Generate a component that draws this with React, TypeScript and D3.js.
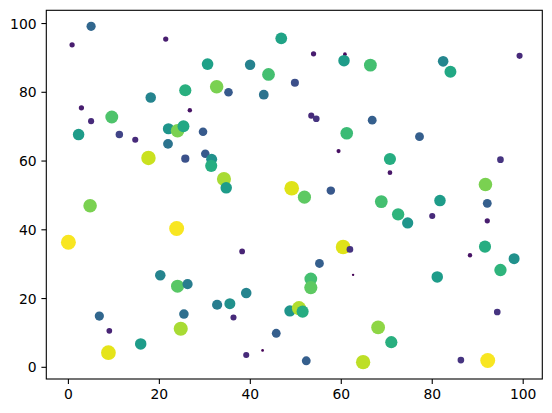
import React from "react";
import * as d3 from "d3";

// Scatter data (x, y, color/size value 0..1)
const xs = [
  4.99, 0.81, 21.4, 18.1, 2.86, 9.54, 4.99, 2.24, 11.2, 22.0, 24.0, 25.3,
  46.8, 30.6, 39.95, 44.0, 49.8, 25.7, 32.6, 35.2, 42.96, 26.7, 29.6,
  53.9, 60.8, 60.6, 66.4, 53.4, 54.5, 66.8, 61.2,
  82.4, 84.0, 99.2, 77.2,
  14.7, 21.9, 17.6, 4.77, 0.0, 23.8,
  25.7, 30.1, 31.5, 31.4, 34.2, 34.7, 49.1, 38.2,
  59.4, 70.7, 70.7, 51.9, 57.7, 68.8, 72.5, 74.6, 60.4, 61.9, 55.2,
  95.0, 91.7, 81.7, 92.1, 80.0, 92.1, 91.6, 88.3, 98.0,
  20.2, 24.0, 6.8, 9.0, 15.9, 8.8, 24.7,
  26.2, 25.4, 32.7, 35.5, 39.1, 36.3, 39.1, 42.7, 45.7, 48.7, 50.7, 51.5,
  62.6, 53.3, 53.3, 52.3, 64.8, 68.1, 71.0,
  95.0, 81.1, 94.3, 86.3, 92.2,
];
const ys = [
  99.2, 93.8, 95.5, 78.5, 75.5, 72.8, 71.6, 67.7, 67.7, 69.4, 68.8, 70.1,
  95.7, 88.2, 88.0, 85.2, 82.8, 80.6, 81.6, 80.0, 79.3, 74.8, 68.5,
  91.2, 91.1, 89.2, 87.9, 73.2, 72.3, 71.9, 68.1,
  89.0, 86.0, 90.6, 67.1,
  66.2, 65.0, 60.9, 47.0, 36.4, 40.4,
  60.7, 62.1, 60.5, 58.6, 54.8, 52.2, 52.1, 33.7,
  62.9, 60.6, 56.6, 49.5, 51.4, 48.2, 44.5, 42.0, 35.0, 34.3, 30.2,
  60.4, 53.2, 48.5, 47.7, 44.0, 42.6, 35.1, 32.6, 31.6,
  26.8, 23.6, 14.9, 10.6, 6.8, 4.25, 11.2,
  24.2, 15.5, 18.2, 18.5, 21.6, 14.5, 3.6, 4.9, 9.9, 16.4, 17.2, 16.2,
  26.9, 25.7, 23.2, 1.9, 1.5, 11.6, 7.3,
  28.3, 26.3, 16.1, 2.1, 2.0,
];
const cs = [
  0.33, 0.08, 0.08, 0.45, 0.08, 0.72, 0.12, 0.55, 0.2, 0.52, 0.8, 0.6,
  0.58, 0.57, 0.44, 0.7, 0.24, 0.63, 0.8, 0.28, 0.38, 0.05, 0.28,
  0.08, 0.03, 0.55, 0.7, 0.12, 0.15, 0.3, 0.68,
  0.46, 0.6, 0.12, 0.3,
  0.12, 0.38, 0.92, 0.8, 0.99, 0.99,
  0.25, 0.28, 0.5, 0.62, 0.87, 0.55, 0.95, 0.1,
  0.04, 0.62, 0.06, 0.75, 0.27, 0.7, 0.65, 0.52, 0.95, 0.15, 0.3,
  0.15, 0.8, 0.55, 0.3, 0.12, 0.08, 0.62, 0.05, 0.5,
  0.45, 0.74, 0.33, 0.1, 0.55, 0.96, 0.87,
  0.42, 0.36, 0.42, 0.5, 0.45, 0.12, 0.12, 0.01, 0.3, 0.52, 0.88, 0.62,
  0.005, 0.7, 0.75, 0.3, 0.9, 0.83, 0.63,
  0.65, 0.55, 0.15, 0.15, 0.99,
];
const xTicks = [0, 20, 40, 60, 80, 100];
const yTicks = [0, 20, 40, 60, 80, 100];

const W = 552;
const H = 413;
const left = 46.3;
const right = 542.3;
const top = 10.3;
const bottom = 379;

export default function App() {
  const x = d3.scaleLinear().domain([-4.86, 104.2]).range([left, right]);
  const y = d3.scaleLinear().domain([-3.4, 103.85]).range([bottom, top]);
  const r = d3.scaleSqrt().domain([0, 1]).range([0, 6.8]);
  const pts = xs.map((v, i) => ({ x: v, y: ys[i], c: cs[i] }));
  const font = "DejaVu Sans, sans-serif";
  return (
    <svg
      width={W}
      height={H}
      style={{ position: "absolute", left: 0, top: 0, background: "#fff" }}
    >
      <rect x={0} y={0} width={W} height={H} fill="#fff" />
      {pts.map((p, i) => (
        <circle
          key={i}
          cx={x(p.x)}
          cy={y(p.y)}
          r={0.7 + r(p.c)}
          fill={d3.interpolateViridis(p.c)}
        />
      ))}
      <rect
        x={left}
        y={top}
        width={right - left}
        height={bottom - top}
        fill="none"
        stroke="#000"
        strokeWidth={1.1}
      />
      {xTicks.map((t) => (
        <g key={"x" + t}>
          <line x1={x(t)} x2={x(t)} y1={bottom} y2={bottom + 4.9} stroke="#000" strokeWidth={1.1} />
          <text x={x(t)} y={bottom + 19.8} textAnchor="middle" fontFamily={font} fontSize={13.9} fill="#000">
            {t}
          </text>
        </g>
      ))}
      {yTicks.map((t) => (
        <g key={"y" + t}>
          <line x1={left - 4.9} x2={left} y1={y(t)} y2={y(t)} stroke="#000" strokeWidth={1.1} />
          <text x={left - 9.7} y={y(t) + 5} textAnchor="end" fontFamily={font} fontSize={13.9} fill="#000">
            {t}
          </text>
        </g>
      ))}
    </svg>
  );
}
